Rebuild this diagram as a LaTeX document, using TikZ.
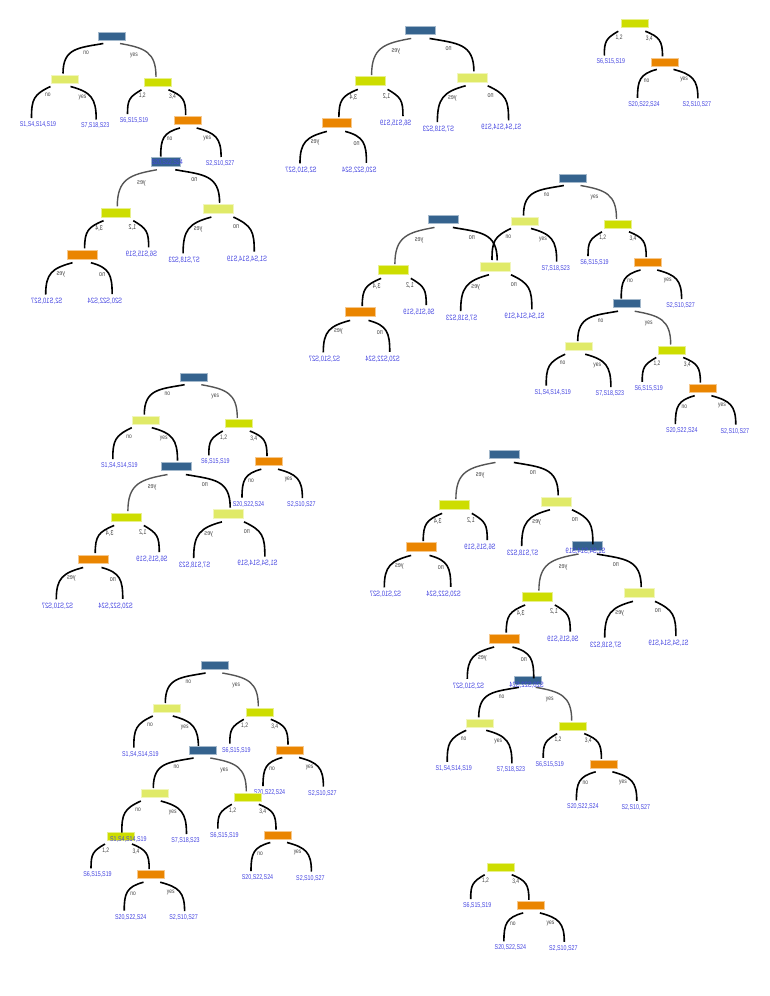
\documentclass[tikz,border=0pt]{standalone}
\usepackage{graphicx}
\usepackage{fontspec}
\setmainfont{Liberation Sans}
\usetikzlibrary{calc}
\definecolor{cblue}{RGB}{53,99,142}
\definecolor{cly}{RGB}{224,234,104}
\definecolor{cyg}{RGB}{205,221,0}
\definecolor{cor}{RGB}{234,133,0}
\definecolor{cleaf}{RGB}{70,70,225}
\definecolor{clbl}{RGB}{70,70,70}
\definecolor{cgedge}{RGB}{85,85,85}
\newcommand\cond[1]{\scalebox{0.76}[1]{#1}}
\tikzset{
  box/.style={minimum width=27pt, minimum height=8pt, inner sep=0pt, line width=0.6pt},
  bbox/.style={box, fill=cblue, draw=cblue!45!white},
  lbox/.style={box, fill=cly, draw=cly!45!white},
  ybox/.style={box, fill=cyg, draw=cyg!45!white},
  obox/.style={box, fill=cor, draw=cor!45!white},
  leaf/.style={inner sep=0pt, text=cleaf, font=\fontsize{7}{7}\selectfont},
  lbl/.style={inner sep=0pt, text=clbl, font=\fontsize{6.5}{6.5}\selectfont},
  edge/.style={line width=1.6pt, black, looseness=1.3},
  gedge/.style={line width=1.4pt, cgedge, looseness=1.3}
}
% orange subtree, O at local origin
\newcommand\OT[3]{%
  \node[obox] (#1O) at (0,0) {};
  \node[leaf] (#1Ono) at (-20.5,-42.5) {\cond{#2}};
  \node[leaf] (#1Oyes) at (32.4,-43) {\cond{#3}};
  \draw[edge] ($(#1O)+(-7.7,-7.5)$) to[out=195,in=90] ($(#1Ono)+(-6.5,6.5)$);
  \draw[edge] ($(#1O)+(9,-7.5)$) to[out=-15,in=90] ($(#1Oyes)+(1,6.5)$);
  \node[lbl] (#1lbOno) at (-18,-18.7) {\cond{no}};
  \node[lbl] (#1lbOyes) at (19.6,-17.7) {\cond{yes}};
}
% yellow-green subtree, Y at local origin
\newcommand\YT[4]{%
  \node[ybox] (#1Y) at (0,0) {};
  \node[leaf] (#1Ytw) at (-23.5,-38.3) {\cond{#2}};
  \begin{scope}[shift={(30.2,-38.2)}]\OT{#1}{#3}{#4}\end{scope}
  \draw[edge] ($(#1Y)+(-16,-7.5)$) to[out=210,in=90] ($(#1Ytw)+(-6.5,6.5)$);
  \draw[edge] ($(#1Y)+(11,-7.5)$) to[out=-22,in=90] ($(#1O)+(-2,5.5)$);
  \node[lbl] (#1lbYa) at (-15.2,-13.8) {\cond{1,2}};
  \node[lbl] (#1lbYb) at (15,-14.8) {\cond{3,4}};
}
% blue tree, B at local origin
\newcommand\BT[6]{%
  \node[bbox] (#1B) at (0,0) {};
  \node[lbox] (#1L) at (-47.5,-43) {};
  \node[leaf] (#1Lno) at (-74,-88.5) {\cond{#2}};
  \node[leaf] (#1Lyes) at (-16.8,-90) {\cond{#3}};
  \begin{scope}[shift={(45.5,-46.3)}]\YT{#1}{#4}{#5}{#6}\end{scope}
  \draw[gedge] ($(#1B)+(8,-7.5)$) to[out=-10,in=90] ($(#1Y)+(-1.5,5.5)$);
  \draw[edge] ($(#1B)+(-8.7,-7.5)$) to[out=190,in=90] ($(#1L)+(-1.5,5.5)$);
  \draw[edge] ($(#1L)+(-14,-7.5)$) to[out=205,in=90] ($(#1Lno)+(-6.5,6.5)$);
  \draw[edge] ($(#1L)+(6,-7.5)$) to[out=-15,in=90] ($(#1Lyes)+(1,6.5)$);
  \node[lbl] (#1lbL) at (-26,-16.7) {\cond{no}};
  \node[lbl] (#1lbY) at (22,-19.5) {\cond{yes}};
  \node[lbl] (#1lbLno) at (-64.1,-59.2) {\cond{no}};
  \node[lbl] (#1lbLyes) at (-29.5,-61.5) {\cond{yes}};
}
\newcommand\LA{S1,S4,S14,S19}
\newcommand\LB{S7,S18,S23}
\newcommand\LC{S6,S15,S19}
\newcommand\LD{S20,S22,S24}
\newcommand\LE{S2,S10,S27}
\begin{document}
\begin{tikzpicture}[x=1pt,y=1pt]
\useasboundingbox (0,0) rectangle (769,-996);
\fill[white] (0,0) rectangle (769,-996);
% tree 2 (mirrored)
\begin{scope}[shift={(165.7,-161.5)},xscale=-1.1,yscale=1.1,transform shape]
  \BT{tb}{\LA}{\LB}{\LC}{\LD}{\LE}
\end{scope}
% tree 1
\begin{scope}[shift={(112,-36)},transform shape]
  \BT{ta}{\LA}{\LB}{\LC}{\LD}{\LE}
\end{scope}
% tree 3 (mirrored)
\begin{scope}[shift={(420,-30.2)},xscale=-1.1,yscale=1.1,transform shape]
  \BT{tc}{\LA}{\LB}{\LC}{\LD}{\LE}
\end{scope}
% tree 4 (yellow-green only)
\begin{scope}[shift={(634.3,-23.7)},transform shape]
  \YT{td}{\LC}{\LD}{\LE}
\end{scope}
% tree 7
\begin{scope}[shift={(626.7,-303.7)},transform shape]
  \BT{tg}{\LA}{\LB}{\LC}{\LD}{\LE}
\end{scope}
% tree 6
\begin{scope}[shift={(572.5,-178)},transform shape]
  \BT{tf}{}{\LB}{\LC}{}{\LE}
\end{scope}
% tree 5 (mirrored)
\begin{scope}[shift={(443.3,-219.2)},xscale=-1.1,yscale=1.1,transform shape]
  \BT{te}{\LA}{\LB}{\LC}{\LD}{\LE}
\end{scope}
% tree 9 (mirrored)
\begin{scope}[shift={(176.3,-466.3)},xscale=-1.1,yscale=1.1,transform shape]
  \BT{ti}{\LA}{\LB}{\LC}{\LD}{\LE}
\end{scope}
% tree 8
\begin{scope}[shift={(193.3,-377.2)},transform shape]
  \BT{th}{\LA}{}{\LC}{\LD}{\LE}
\end{scope}
% tree 12
\begin{scope}[shift={(527.7,-679.8)},transform shape]
  \BT{tl}{\LA}{\LB}{\LC}{\LD}{\LE}
\end{scope}
% tree 11 (mirrored)
\begin{scope}[shift={(587.3,-545.8)},xscale=-1.1,yscale=1.1,transform shape]
  \BT{tk}{\LA}{\LB}{\LC}{\LD}{\LE}
\end{scope}
% tree 10 (mirrored)
\begin{scope}[shift={(504.3,-454.2)},xscale=-1.1,yscale=1.1,transform shape]
  \BT{tj}{\LA}{\LB}{\LC}{\LD}{\LE}
\end{scope}
% tree 13
\begin{scope}[shift={(214.3,-665.5)},transform shape]
  \BT{tm}{\LA}{}{\LC}{\LD}{\LE}
\end{scope}
% tree 15 (yellow-green only)
\begin{scope}[shift={(121,-836.5)},transform shape]
  \YT{to}{\LC}{\LD}{\LE}
\end{scope}
% tree 14
\begin{scope}[shift={(202.3,-750.5)},transform shape]
  \BT{tn}{\LA}{\LB}{\LC}{\LD}{\LE}
\end{scope}
% tree 16 (yellow-green only)
\begin{scope}[shift={(500.7,-867.2)},transform shape]
  \YT{tp}{\LC}{\LD}{\LE}
\end{scope}
\end{tikzpicture}
\end{document}
